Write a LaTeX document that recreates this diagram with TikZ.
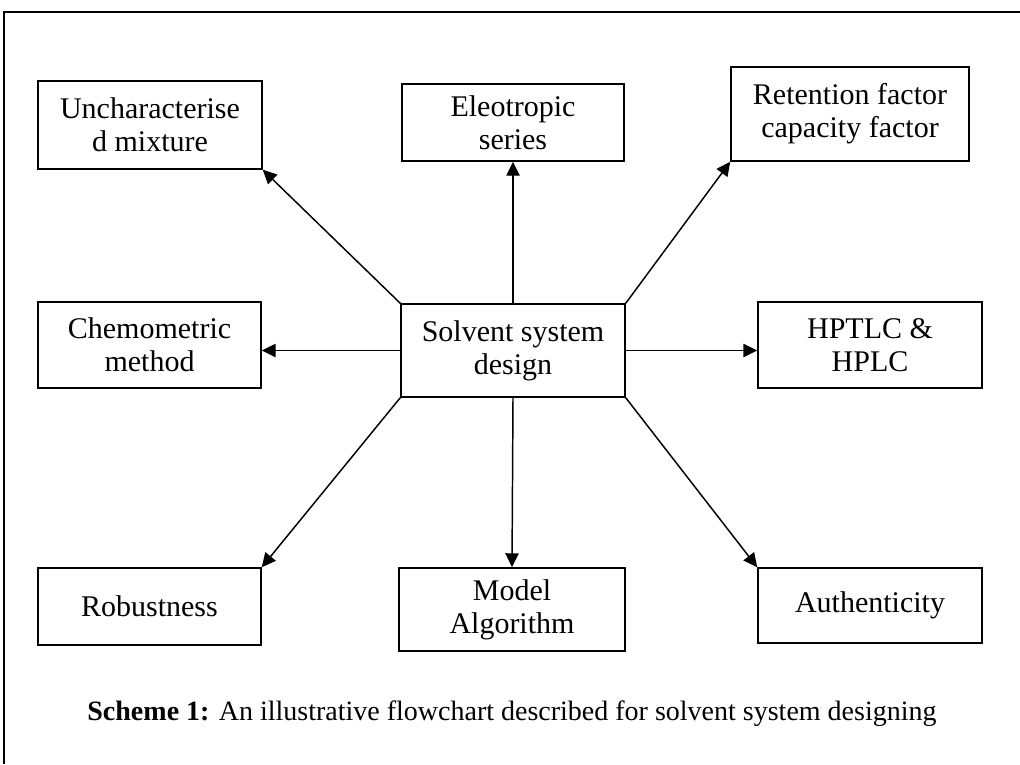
\documentclass[tikz,border=0pt]{standalone}
\usepackage{fontspec}
\setmainfont{Liberation Serif}
\usetikzlibrary{arrows.meta}
\tikzset{>/.tip={Triangle[length=10.5pt, width=10pt]},
  box/.style={draw, line width=1.1pt, align=center, inner sep=2pt,
    font=\fontsize{22.5}{25}\selectfont}}

\begin{document}
\begin{tikzpicture}[x=0.75pt, y=-0.75pt, line width=1.1pt]
\useasboundingbox (0,0) rectangle (1020,764);
\draw[line width=1.5pt] (1020,12) -- (4,12) -- (4,764);

\node[box, minimum width=168pt, minimum height=69.75pt] (sol) at (513,350.5) {Solvent system\\design};

\node[box, minimum width=168pt, minimum height=66pt] (unch) at (150,125) {Uncharacterise\\d mixture};
\node[box, minimum width=166.5pt, minimum height=57.75pt] (eleo) at (513,122.5) {Eleotropic\\series};
\node[box, minimum width=178.5pt, minimum height=70.5pt] (ret) at (850,114) {Retention factor\\capacity factor};
\node[box, minimum width=167.25pt, minimum height=64.5pt] (chem) at (149.5,345) {Chemometric\\method};
\node[box, minimum width=168pt, minimum height=64.5pt] (hp) at (870,345) {HPTLC \&\\HPLC};
\node[box, minimum width=167.25pt, minimum height=57.75pt] (rob) at (149.5,606.5) {Robustness};
\node[box, minimum width=169.5pt, minimum height=62.25pt] (mod) at (512,609.5) {Model\\Algorithm};
\node[box, minimum width=168pt, minimum height=56.25pt] (auth) at (870,605.5) {Authenticity};

\foreach \a/\b in {north west/unch.south east, north/eleo.south, north east/ret.south west,
                   south west/rob.north east, south/mod.north, south east/auth.north west}
{
  \draw[->] (sol.\a) -- (\b);
}
\draw[->] (sol.west) -- (sol.west -| chem.east);
\draw[->] (sol.east) -- (sol.east -| hp.west);

\node[font=\fontsize{21}{24}\selectfont] (cap) at (512,714) {\textbf{Scheme 1:} An illustrative flowchart described for solvent system designing};
\end{tikzpicture}
\end{document}
